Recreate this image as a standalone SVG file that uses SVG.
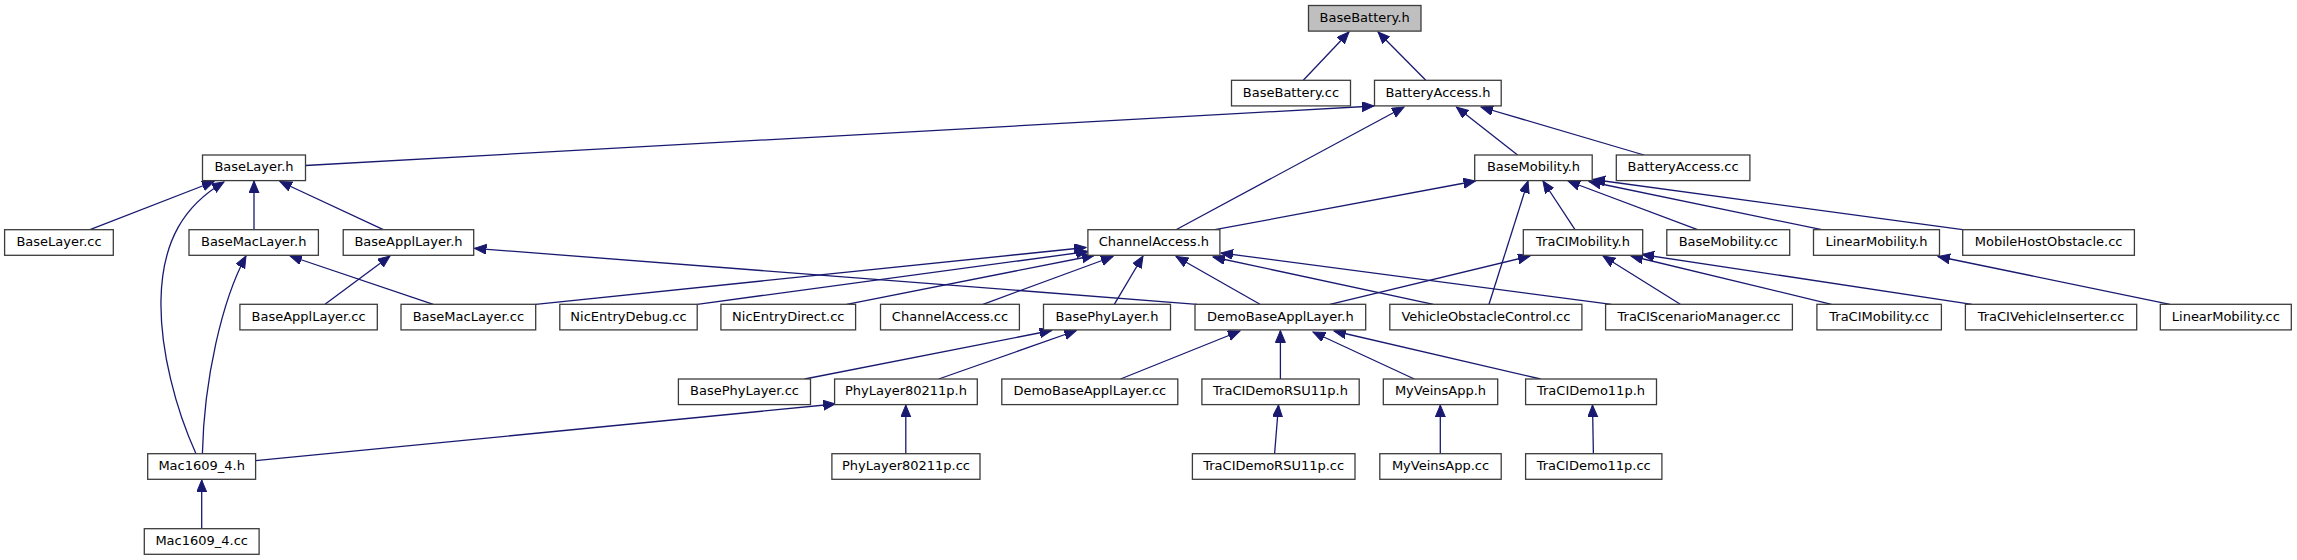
<svg xmlns="http://www.w3.org/2000/svg" width="2297" height="560" viewBox="0 0 2297 560">
<style>
.n rect{fill:#fff;stroke:#3c3c3c;stroke-width:1.3}
.n.root rect{fill:#bfbfbf}
.n text{font-family:"DejaVu Sans","Liberation Sans",sans-serif;font-size:13px;fill:#000;text-anchor:middle}
#edges path{fill:none;stroke:#191970;stroke-width:1.3;marker-end:url(#ah)}
</style>
<defs>
<marker id="ah" markerUnits="userSpaceOnUse" markerWidth="13" markerHeight="11" refX="12" refY="5" orient="auto">
<path d="M0,0 L12,5 L0,10 z" fill="#191970" stroke="#191970" stroke-width="1"/>
</marker>
</defs>
<rect width="2297" height="560" fill="#fff"/>
<g id="edges">
<path d="M1303.3,80.3 L1349,32"/>
<path d="M1425.8,80.3 L1378,32"/>
<path d="M305.4,165.5 L1374,106"/>
<path d="M1176,229.7 L1404,107"/>
<path d="M1517.6,155 L1456.4,107"/>
<path d="M1644,155 L1481,107"/>
<path d="M90,229.7 L214,181.5"/>
<path d="M196,453.7 C176,410 160,350 161,300 C162,240 185,205 224,182"/>
<path d="M254,229.7 L254,181"/>
<path d="M383.3,229.7 L280,181.5"/>
<path d="M202.4,453.7 C204,380 222,300 246,256"/>
<path d="M433.3,304.3 L290,256"/>
<path d="M325,304.3 L390,256"/>
<path d="M1197,304.3 L474.5,248.3"/>
<path d="M1215,229.7 L1475.5,181"/>
<path d="M1489,304.3 L1528,181"/>
<path d="M1575,229.7 L1543,181"/>
<path d="M1697.5,229.7 L1568,181"/>
<path d="M1821.8,229.7 L1589,181.5"/>
<path d="M1962.7,229.7 L1593,179.5"/>
<path d="M535.7,304.3 L1086,247.5"/>
<path d="M697.2,304.3 L1088,251.5"/>
<path d="M846.7,304.3 L1094,255.5"/>
<path d="M983,304.3 L1113,256.5"/>
<path d="M1114.3,304.3 L1143,256"/>
<path d="M1260,304.3 L1176,256.5"/>
<path d="M1433.4,304.3 L1213,257"/>
<path d="M1611.4,304.3 L1221,253"/>
<path d="M1330,304.3 L1530,256"/>
<path d="M1680.3,304.3 L1603,256"/>
<path d="M1831.5,304.3 L1631,256"/>
<path d="M1972,304.3 L1642,254.5"/>
<path d="M2170,304.3 L1938,256.5"/>
<path d="M804.7,379 L1051.6,330.5"/>
<path d="M938.7,379 L1076.4,330.5"/>
<path d="M255.6,460.7 L835.3,404"/>
<path d="M905.8,453.7 L905.8,405"/>
<path d="M1120.5,379 L1240,331"/>
<path d="M1280.4,379 L1280.4,330.5"/>
<path d="M1414.3,379 L1313,332"/>
<path d="M1540.6,379 L1334,331"/>
<path d="M1274.6,453.7 L1278.5,405"/>
<path d="M1440.3,453.7 L1440.3,405"/>
<path d="M1593.4,453.7 L1592.5,405"/>
<path d="M201.7,528.7 L201.7,480"/>
</g>
<g id="BaseBattery_h" class="n root"><rect x="1308.5" y="5.5" width="112.5" height="25.6"/><text x="1364.7" y="21.8">BaseBattery.h</text></g>
<g id="BaseBattery_cc" class="n"><rect x="1231.5" y="80.3" width="119" height="25.6"/><text x="1291" y="96.6">BaseBattery.cc</text></g>
<g id="BatteryAccess_h" class="n"><rect x="1374.5" y="80.3" width="126.7" height="25.6"/><text x="1437.9" y="96.6">BatteryAccess.h</text></g>
<g id="BaseLayer_h" class="n"><rect x="202.5" y="155" width="103" height="25.6"/><text x="254" y="171.3">BaseLayer.h</text></g>
<g id="BaseMobility_h" class="n"><rect x="1474.7" y="155" width="117.5" height="25.6"/><text x="1533.5" y="171.3">BaseMobility.h</text></g>
<g id="BatteryAccess_cc" class="n"><rect x="1616.3" y="155" width="133.6" height="25.6"/><text x="1683.1" y="171.3">BatteryAccess.cc</text></g>
<g id="BaseLayer_cc" class="n"><rect x="4.6" y="229.7" width="108.7" height="25.6"/><text x="59" y="246">BaseLayer.cc</text></g>
<g id="BaseMacLayer_h" class="n"><rect x="189" y="229.7" width="129.4" height="25.6"/><text x="253.7" y="246">BaseMacLayer.h</text></g>
<g id="BaseApplLayer_h" class="n"><rect x="343.2" y="229.7" width="130.5" height="25.6"/><text x="408.5" y="246">BaseApplLayer.h</text></g>
<g id="ChannelAccess_h" class="n"><rect x="1087.9" y="229.7" width="132" height="25.6"/><text x="1153.9" y="246">ChannelAccess.h</text></g>
<g id="TraCIMobility_h" class="n"><rect x="1523.3" y="229.7" width="119.4" height="25.6"/><text x="1583" y="246">TraCIMobility.h</text></g>
<g id="BaseMobility_cc" class="n"><rect x="1666.8" y="229.7" width="122.9" height="25.6"/><text x="1728.3" y="246">BaseMobility.cc</text></g>
<g id="LinearMobility_h" class="n"><rect x="1813.5" y="229.7" width="126" height="25.6"/><text x="1876.5" y="246">LinearMobility.h</text></g>
<g id="MobileHostObstacle_cc" class="n"><rect x="1962.7" y="229.7" width="171.7" height="25.6"/><text x="2048.6" y="246">MobileHostObstacle.cc</text></g>
<g id="BaseApplLayer_cc" class="n"><rect x="239.9" y="304.3" width="137.4" height="25.6"/><text x="308.6" y="320.6">BaseApplLayer.cc</text></g>
<g id="BaseMacLayer_cc" class="n"><rect x="401" y="304.3" width="134.7" height="25.6"/><text x="468.4" y="320.6">BaseMacLayer.cc</text></g>
<g id="NicEntryDebug_cc" class="n"><rect x="559.8" y="304.3" width="137.4" height="25.6"/><text x="628.5" y="320.6">NicEntryDebug.cc</text></g>
<g id="NicEntryDirect_cc" class="n"><rect x="720.9" y="304.3" width="134.7" height="25.6"/><text x="788.3" y="320.6">NicEntryDirect.cc</text></g>
<g id="ChannelAccess_cc" class="n"><rect x="880.5" y="304.3" width="138.9" height="25.6"/><text x="950" y="320.6">ChannelAccess.cc</text></g>
<g id="BasePhyLayer_h" class="n"><rect x="1043.5" y="304.3" width="127" height="25.6"/><text x="1107" y="320.6">BasePhyLayer.h</text></g>
<g id="DemoBaseApplLayer_h" class="n"><rect x="1195" y="304.3" width="170.7" height="25.6"/><text x="1280.4" y="320.6">DemoBaseApplLayer.h</text></g>
<g id="VehicleObstacleControl_cc" class="n"><rect x="1389.8" y="304.3" width="192.1" height="25.6"/><text x="1485.9" y="320.6">VehicleObstacleControl.cc</text></g>
<g id="TraCIScenarioManager_cc" class="n"><rect x="1605.6" y="304.3" width="186.8" height="25.6"/><text x="1699" y="320.6">TraCIScenarioManager.cc</text></g>
<g id="TraCIMobility_cc" class="n"><rect x="1816.9" y="304.3" width="124.5" height="25.6"/><text x="1879.2" y="320.6">TraCIMobility.cc</text></g>
<g id="TraCIVehicleInserter_cc" class="n"><rect x="1965.4" y="304.3" width="171.3" height="25.6"/><text x="2051" y="320.6">TraCIVehicleInserter.cc</text></g>
<g id="LinearMobility_cc" class="n"><rect x="2160.3" y="304.3" width="131" height="25.6"/><text x="2225.8" y="320.6">LinearMobility.cc</text></g>
<g id="BasePhyLayer_cc" class="n"><rect x="678.4" y="379" width="132.1" height="25.6"/><text x="744.5" y="395.3">BasePhyLayer.cc</text></g>
<g id="PhyLayer80211p_h" class="n"><rect x="834.6" y="379" width="142.7" height="25.6"/><text x="906" y="395.3">PhyLayer80211p.h</text></g>
<g id="DemoBaseApplLayer_cc" class="n"><rect x="1001.8" y="379" width="176" height="25.6"/><text x="1089.8" y="395.3">DemoBaseApplLayer.cc</text></g>
<g id="TraCIDemoRSU11p_h" class="n"><rect x="1201.9" y="379" width="157.3" height="25.6"/><text x="1280.5" y="395.3">TraCIDemoRSU11p.h</text></g>
<g id="MyVeinsApp_h" class="n"><rect x="1383.3" y="379" width="114.4" height="25.6"/><text x="1440.5" y="395.3">MyVeinsApp.h</text></g>
<g id="TraCIDemo11p_h" class="n"><rect x="1525.6" y="379" width="130.9" height="25.6"/><text x="1591" y="395.3">TraCIDemo11p.h</text></g>
<g id="Mac1609_4_h" class="n"><rect x="147.7" y="453.7" width="107.9" height="25.6"/><text x="201.7" y="470">Mac1609_4.h</text></g>
<g id="PhyLayer80211p_cc" class="n"><rect x="831.9" y="453.7" width="148.1" height="25.6"/><text x="906" y="470">PhyLayer80211p.cc</text></g>
<g id="TraCIDemoRSU11p_cc" class="n"><rect x="1192.4" y="453.7" width="162.6" height="25.6"/><text x="1273.7" y="470">TraCIDemoRSU11p.cc</text></g>
<g id="MyVeinsApp_cc" class="n"><rect x="1379.8" y="453.7" width="121.4" height="25.6"/><text x="1440.5" y="470">MyVeinsApp.cc</text></g>
<g id="TraCIDemo11p_cc" class="n"><rect x="1525.6" y="453.7" width="136.3" height="25.6"/><text x="1593.7" y="470">TraCIDemo11p.cc</text></g>
<g id="Mac1609_4_cc" class="n"><rect x="144.3" y="528.7" width="114.8" height="25.6"/><text x="201.7" y="545">Mac1609_4.cc</text></g>
</svg>
